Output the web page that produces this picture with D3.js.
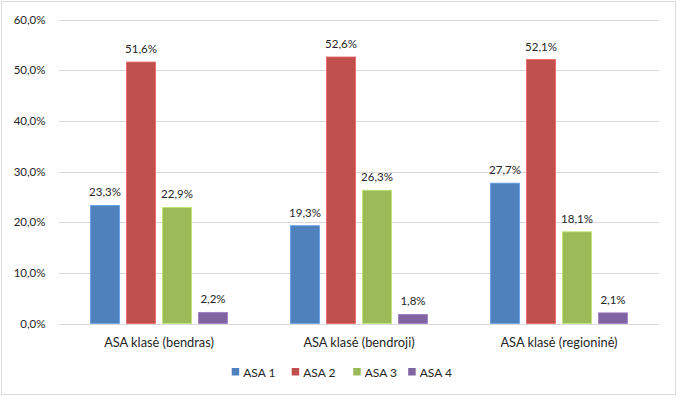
<!DOCTYPE html>
<html><head><meta charset="utf-8">
<script src="https://cdn.jsdelivr.net/npm/d3@7"></script>
<style>body{margin:0;background:#fff;} text{font-family:Lato,"Liberation Sans",sans-serif;fill:#262626;}</style>
</head><body>
<svg id="c" width="682" height="399"></svg>
<script>
const categories = ["ASA klasė (bendras)", "ASA klasė (bendroji)", "ASA klasė (regioninė)"];
const seriesNames = ["ASA 1", "ASA 2", "ASA 3", "ASA 4"];
const asa1 = [23.3, 19.3, 27.7];
const asa2 = [51.6, 52.6, 52.1];
const asa3 = [22.9, 26.3, 18.1];
const asa4 = [2.2, 1.8, 2.1];
const tickValues = [0, 10, 20, 30, 40, 50, 60];
const colors = ["#4F81BD", "#C0504D", "#9BBB59", "#8064A2"];
const seriesValues = [asa1, asa2, asa3, asa4];

const svg = d3.select("#c");
svg.append("rect").attr("x",1.5).attr("y",1.5).attr("width",674).attr("height",393)
  .attr("fill","#fff").attr("stroke","#D9D9D9").attr("stroke-width",1);

const x0 = d3.scaleBand().domain(categories).range([59, 659]);
const x1 = d3.scaleBand().domain(seriesNames).range([31.5, 168.5]).paddingInner(0.194);
const y = d3.scaleLinear().domain([0, 60]).range([323.5, 19.5]);
const fmt = v => d3.format(".1f")(v).replace(".", ",") + "%";

// gridlines
svg.append("g").selectAll("line").data(tickValues).join("line")
  .attr("x1", 59).attr("x2", 659).attr("y1", d => Math.round(y(d))+0.5).attr("y2", d => Math.round(y(d))+0.5)
  .attr("stroke", "#D9D9D9").attr("stroke-width", 1);

// y axis labels
const yAxis = d3.axisLeft(y).tickValues(tickValues).tickFormat(fmt).tickSize(0).tickPadding(13.5);
const ya = svg.append("g").attr("transform","translate(59,0)").call(yAxis);
ya.select(".domain").remove();
ya.selectAll("text").attr("font-size","11.5px").style("font-family","Lato,sans-serif").attr("fill","#262626");

// x axis labels
const xAxis = d3.axisBottom(x0).tickSize(0).tickPadding(14);
const xa = svg.append("g").attr("transform","translate(0,323.5)").call(xAxis);
xa.select(".domain").remove();
xa.selectAll("text").attr("font-size","12.8px").style("font-family","Lato,sans-serif").attr("fill","#262626");

// bars
const groups = svg.append("g").selectAll("g").data(categories).join("g")
  .attr("transform", d => `translate(${x0(d)},0)`);
groups.each(function(cat, ci){
  const g = d3.select(this);
  seriesNames.forEach((s, si) => {
    const v = seriesValues[si][ci];
    g.append("rect").attr("x", x1(s)).attr("width", x1.bandwidth())
      .attr("y", y(v)).attr("height", y(0) - y(v)).attr("fill", colors[si])
      .attr("stroke", d3.color(colors[si]).brighter(0.6)).attr("stroke-width", 0.8);
    g.append("text").attr("x", x1(s) + x1.bandwidth()/2).attr("y", y(v) - 9)
      .attr("text-anchor","middle").attr("font-size","11.5px").text(fmt(v));
  });
});

// legend
const legendOffsets = [0, 60, 121.5, 176.5];
const legend = svg.append("g").attr("transform","translate(231.7,372)");
seriesNames.forEach((s, i) => {
  const lg = legend.append("g").attr("transform", `translate(${legendOffsets[i]},0)`);
  lg.append("rect").attr("x",0).attr("y",-4).attr("width",7.5).attr("height",7.5).attr("fill",colors[i]);
  lg.append("text").attr("x",11.5).attr("y",5).attr("font-size","12px").text(s);
});
</script>
</body></html>
